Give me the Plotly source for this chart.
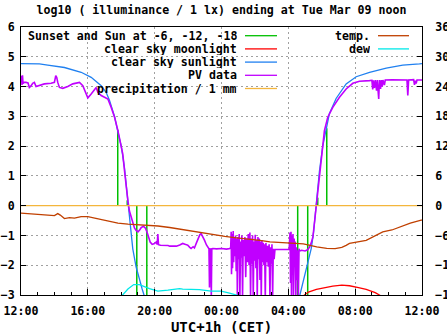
import pandas as pd
import plotly.graph_objects as go

BASE = pd.Timestamp("2021-03-08 12:00")

# ---- data (hours after Mon 12:00, CET) ----
sun_event_hours = [5.79, 6.36, 6.93, 7.53, 16.56, 17.16, 17.76, 18.30]
sun_event_values = [2.55, 0.18, -4.0, -4.0, -4.0, -4.0, 0.27, 2.60]

moon_hours = [16.85, 17.2, 17.68, 18.2, 18.66, 19.2, 19.66, 20.2, 20.66, 21.2, 21.6]
moon_values = [-3.05, -2.90, -2.81, -2.74, -2.70, -2.67, -2.69, -2.75, -2.81, -2.92, -3.05]

sun_eve_hours = [0, 0.6, 1.1, 1.6, 2.6, 3.6, 4.2, 4.8, 5.1, 5.3, 5.6, 5.85, 6.0, 6.19,
                 6.39, 6.46, 6.53, 6.6, 6.69, 6.89, 7.09, 7.25, 7.39]
sun_eve_values = [4.77, 4.77, 4.76, 4.72, 4.64, 4.48, 4.31, 4.03, 3.80, 3.53, 2.99, 2.35,
                  2.0, 1.29, 0.18, -0.10, -0.55, -0.95, -1.45, -2.06, -2.5, -2.8, -3.05]
sun_morn_hours = [16.67, 16.86, 17.07, 17.16, 17.37, 17.5, 17.62, 17.72, 17.86, 18.06,
                  18.26, 18.46, 18.86, 19.46, 20.06, 20.86, 21.86, 22.85, 23.85, 24.0]
sun_morn_values = [-3.05, -2.61, -2.22, -1.94, -1.44, -0.95, -0.2, 0.4, 1.15, 2.0,
                   2.6, 3.1, 3.6, 4.09, 4.33, 4.48, 4.62, 4.72, 4.76, 4.77]

pv_hours = [
    0.00, 0.03, 0.06, 0.09, 0.12, 0.18, 0.30, 0.42, 0.50, 0.60, 0.70, 0.80, 0.90, 1.10,
    1.40, 1.80, 2.00, 2.08, 2.14, 2.20, 2.30, 2.50, 2.80, 3.10, 3.50, 3.70, 3.90, 4.00,
    4.20, 4.50, 4.60, 4.80, 5.00, 5.20, 5.40, 5.60, 5.80, 5.95, 6.09, 6.20, 6.29, 6.40,
    6.49, 6.59, 6.69, 6.79, 6.89, 7.00, 7.10, 7.19, 7.33, 7.45, 7.55, 7.65, 7.73, 7.85,
    7.99, 8.09, 8.15, 8.19, 8.23, 8.35, 8.50, 8.80, 8.90, 9.10, 9.30, 9.50, 9.68, 9.85,
    9.98, 10.10, 10.18, 10.30, 10.38, 10.50, 10.58, 10.70, 10.78, 10.90, 10.98, 11.10,
    11.18, 11.25, 11.28, 11.31, 11.36, 11.39, 11.42, 11.48, 11.70, 12.00, 12.30, 12.50,
    12.55, 12.58, 12.60, 12.63, 12.66, 12.70, 12.73, 12.76, 12.80, 12.84, 12.88, 12.92,
    12.95, 12.98, 13.02, 13.06, 13.10, 13.14, 13.18, 13.22, 13.26, 13.30, 13.35, 13.40,
    13.45, 13.50, 13.55, 13.60, 13.65, 13.70, 13.74, 13.78, 13.82, 13.86, 13.90, 13.94,
    13.98, 14.02, 14.06, 14.10, 14.14, 14.18, 14.22, 14.26, 14.30, 14.34, 14.38, 14.42,
    14.46, 14.50, 14.54, 14.58, 14.62, 14.66, 14.70, 14.75, 14.80, 14.85, 14.90, 14.94,
    14.98, 15.02, 15.06, 15.10, 15.15, 15.20, 15.50, 15.80, 16.05,
    16.10, 16.13, 16.16, 16.19, 16.22, 16.25, 16.28, 16.31, 16.35, 16.38, 16.41, 16.45,
    16.48, 16.52, 16.56, 16.60, 16.64, 16.68,
    16.80, 17.00, 17.15, 17.27, 17.37, 17.47, 17.52, 17.58, 17.67, 17.76, 17.86, 17.97,
    18.06, 18.16, 18.36, 18.66, 19.06, 19.46, 19.86, 20.26, 20.86, 21.00, 21.05, 21.08,
    21.15, 21.20, 21.28, 21.32, 21.41, 21.45, 21.52, 21.56, 21.62, 21.66, 21.75, 21.80,
    22.20, 22.85, 23.10, 23.15, 23.20, 23.50, 23.55, 23.60, 23.65, 23.70, 24.00]
pv_values = [
    4.30, 4.36, 4.05, 4.38, 4.10, 4.14, 4.14, 4.12, 3.97, 4.02, 4.11, 4.14, 4.00, 4.03,
    4.09, 4.11, 4.14, 4.37, 4.30, 4.14, 3.97, 3.94, 4.00, 4.09, 4.14, 4.03, 3.75, 3.62,
    3.75, 3.97, 3.81, 3.70, 3.64, 3.58, 3.30, 2.97, 2.52, 2.10, 1.74, 1.15, 0.62, 0.15,
    -0.18, -0.40, -0.60, -0.75, -0.83, -0.88, -0.82, -0.74, -0.69, -0.76, -0.90, -1.10, -1.22, -1.30,
    -1.27, -1.22, -1.30, -0.95, -1.31, -1.33, -1.33, -1.34, -1.36, -1.35, -1.36, -1.32, -1.27, -1.30,
    -1.33, -1.40, -1.44, -1.38, -1.42, -1.25, -1.11, -0.98, -0.94, -1.05, -1.16, -1.32,
    -1.39, -1.45, -2.75, -1.45, -1.46, -3.10, -1.45, -1.44, -1.45, -1.44, -1.46, -1.44,
    -1.40, -0.88, -2.30, -0.95, -2.10, -0.85, -1.90, -1.05, -1.70, -1.00, -2.20, -1.10,
    -3.10, -1.05, -1.80, -0.95, -3.10, -1.20, -1.75, -1.00, -3.10, -1.15, -1.70, -1.05,
    -2.40, -1.10, -1.90, -0.95, -2.00, -0.90, -3.10, -1.10, -1.95, -1.00, -3.10, -1.20,
    -1.85, -0.98, -2.10, -1.15, -3.10, -1.05, -1.80, -1.10, -2.50, -1.20, -3.10, -1.15,
    -1.90, -1.25, -2.00, -1.30, -3.10, -1.25, -1.90, -1.35, -2.05, -1.30, -3.10, -1.40,
    -1.95, -1.30, -3.10, -1.45, -1.80, -1.47, -1.47, -1.48, -1.47,
    -0.90, -2.60, -0.88, -3.10, -1.00, -2.30, -0.95, -3.10, -1.10, -2.00, -1.20, -3.10,
    -1.40, -2.50, -1.50, -3.10, -1.45, -1.52,
    -1.50, -1.52, -1.48, -1.39, -1.25, -1.05, -0.80, -0.49, 0.07, 0.51, 1.07, 1.52,
    2.07, 2.52, 2.97, 3.30, 3.64, 3.92, 4.11, 4.18, 4.20, 4.21, 3.90, 4.21,
    3.95, 4.22, 3.86, 4.22, 3.58, 4.22, 3.92, 4.22, 4.00, 4.22, 4.05, 4.22,
    4.23, 4.22, 4.22, 3.70, 4.22, 4.23, 4.06, 4.20, 4.10, 4.22, 4.22]

precip_hours = [0, 24]
precip_values = [0, 0]

temp_hours = [0, 0.5, 1.0, 1.5, 2.0, 2.2, 2.35, 2.6, 2.9, 3.2, 3.6, 4.0, 4.4, 4.8, 5.3,
              5.8, 6.4, 7.0, 7.6, 8.2, 8.9, 9.6, 10.3, 11.0, 11.6, 12.2, 12.9, 13.6,
              14.3, 14.9, 15.65, 16.3, 16.9, 17.7, 18.3, 18.8, 19.2, 19.46, 19.66, 20.66,
              21.2, 21.65, 22.2, 22.65, 23.3, 23.95, 24.0]
temp_values = [-1.5, -1.6, -1.7, -1.9, -2.0, -1.6, -1.9, -2.6, -2.4, -2.5, -2.2, -2.2,
               -2.5, -2.8, -3.2, -3.5, -3.7, -3.85, -3.85, -4.1, -4.4, -4.8, -5.2, -5.5,
               -5.9, -6.2, -6.5, -6.7, -7.0, -7.3, -7.4, -7.5, -7.7, -8.3, -8.6, -8.65,
               -8.4, -8.0, -7.6, -7.0, -6.0, -5.3, -4.9, -4.3, -3.5, -2.9, -2.9]

dew_hours = [6.0, 6.4, 6.75, 7.09, 7.69, 8.19, 8.79, 9.49, 9.68, 10.68, 11.38, 11.98,
             12.48, 12.97, 13.18]
dew_values = [-18.3, -16.8, -15.9, -15.9, -16.7, -17.2, -17.0, -16.7, -16.8, -16.9,
              -17.2, -17.2, -17.6, -18.0, -18.3]

title_text = "log10 ( illuminance / 1 lx) ending at Tue Mar 09 noon"
x_title = "UTC+1h (CET)"

# ---- helpers ----
def to_time(hours):
    return [None if h is None else BASE + pd.Timedelta(hours=h) for h in hours]

imp_x, imp_y = [], []
for h, v in zip(sun_event_hours, sun_event_values):
    imp_x += [h, h, None]
    imp_y += [0, v, None]

sun_hours = sun_eve_hours + [None] + sun_morn_hours
sun_values = sun_eve_values + [None] + sun_morn_values

C_GREEN = "#00c000"
C_RED = "#ff0000"
C_BLUE = "#2080f0"
C_PURPLE = "#c000ff"
C_YELLOW = "#f4b63c"
C_TEMP = "#c04000"
C_DEW = "#00e8e8"

FS = 11.6

fig = go.Figure()
fig.add_trace(go.Scatter(x=to_time(imp_x), y=imp_y, mode="lines",
                         line=dict(color=C_GREEN, width=1.5), connectgaps=False,
                         name="Sunset and Sun at -6, -12, -18"))
fig.add_trace(go.Scatter(x=to_time(moon_hours), y=moon_values, mode="lines",
                         line=dict(color=C_RED, width=1.3), name="clear sky moonlight"))
fig.add_trace(go.Scatter(x=to_time(sun_hours), y=sun_values, mode="lines",
                         line=dict(color=C_BLUE, width=1.3), connectgaps=False,
                         name="clear sky sunlight"))
fig.add_trace(go.Scatter(x=to_time(pv_hours), y=pv_values, mode="lines",
                         line=dict(color=C_PURPLE, width=1.6), name="PV data"))
fig.add_trace(go.Scatter(x=to_time(precip_hours), y=precip_values, mode="lines",
                         line=dict(color=C_YELLOW, width=1.3), name="precipitation / 1 mm"))
fig.add_trace(go.Scatter(x=to_time(temp_hours), y=temp_values, mode="lines", yaxis="y2",
                         line=dict(color=C_TEMP, width=1.3), name="temp."))
fig.add_trace(go.Scatter(x=to_time(dew_hours), y=dew_values, mode="lines", yaxis="y2",
                         line=dict(color=C_DEW, width=1.3), name="dew"))

# ---- manual gnuplot-style key ----
PL, PR, PT, PB = 21, 422, 27, 295
def px(x):
    return (x - PL) / (PR - PL)
def py(y):
    return (PB - y) / (PB - PT)

shapes = [
    dict(type="rect", xref="paper", yref="paper", x0=0, x1=px(284), y0=py(96), y1=1,
         fillcolor="white", line=dict(width=0), layer="between"),
    dict(type="rect", xref="paper", yref="paper", x0=px(296), x1=px(420), y0=py(55), y1=1,
         fillcolor="white", line=dict(width=0), layer="between"),
]
annotations = []
left_items = [("Sunset and Sun at -6, -12, -18", C_GREEN), ("clear sky moonlight", C_RED),
              ("clear sky sunlight", C_BLUE), ("PV data", C_PURPLE),
              ("precipitation / 1 mm", C_YELLOW)]
right_items = [("temp.", C_TEMP), ("dew", C_DEW)]
for i, (txt, col) in enumerate(left_items):
    yy = 35.7 + 13.2 * i
    annotations.append(dict(text=txt, xref="paper", yref="paper", x=px(238), y=py(yy),
                            xanchor="right", yanchor="middle", showarrow=False,
                            borderpad=0, height=12))
    shapes.append(dict(type="line", xref="paper", yref="paper", x0=px(245), x1=px(277),
                       y0=py(yy), y1=py(yy), line=dict(color=col, width=1.3), layer="above"))
for i, (txt, col) in enumerate(right_items):
    yy = 35.7 + 13.2 * i
    annotations.append(dict(text=txt, xref="paper", yref="paper", x=px(371), y=py(yy),
                            xanchor="right", yanchor="middle", showarrow=False,
                            borderpad=0, height=12))
    shapes.append(dict(type="line", xref="paper", yref="paper", x0=px(378), x1=px(409),
                       y0=py(yy), y1=py(yy), line=dict(color=col, width=1.3), layer="above"))

GRID = dict(showgrid=True, gridcolor="#a0a0a0", gridwidth=1, griddash="2px,3px")

fig.update_layout(
    width=447, height=335,
    margin=dict(l=PL, r=447 - PR, t=PT, b=335 - PB, autoexpand=False),
    paper_bgcolor="white", plot_bgcolor="white",
    showlegend=False,
    font=dict(family="DejaVu Sans Mono", size=FS, color="black", weight="bold"),
    title=dict(text=title_text, x=0.5, xref="paper", xanchor="center",
               y=1 - 10 / 335, yref="container", yanchor="middle",
               font=dict(family="DejaVu Sans Mono", size=FS, color="black", weight="bold")),
    xaxis=dict(type="date", range=[BASE, BASE + pd.Timedelta(hours=24)],
               tickformat="%H:%M", tick0=BASE, dtick=4 * 3600 * 1000,
               ticks="inside", ticklen=6, tickcolor="black", automargin=False,
               ticklabelstandoff=5,
               minor=dict(dtick=3600 * 1000, ticks="inside", ticklen=3, tickcolor="black",
                          showgrid=False),
               showline=True, linecolor="black", linewidth=1, mirror=True,
               zeroline=False,
               title=dict(text=x_title, standoff=8), **GRID),
    yaxis=dict(range=[-3, 6], dtick=1, ticks="inside", ticklen=5, tickcolor="black",
               showline=True, linecolor="black", linewidth=1, mirror=False,
               zeroline=False, ticklabelstandoff=3, automargin=False, **GRID),
    yaxis2=dict(range=[-18, 36], dtick=6, overlaying="y", side="right", anchor="x",
                ticks="inside", ticklen=5, tickcolor="black", automargin=False,
                showline=True, linecolor="black", linewidth=1,
                showgrid=False, zeroline=False, ticklabelstandoff=10),
    shapes=shapes,
    annotations=annotations,
)

fig.write_html("out.html")
